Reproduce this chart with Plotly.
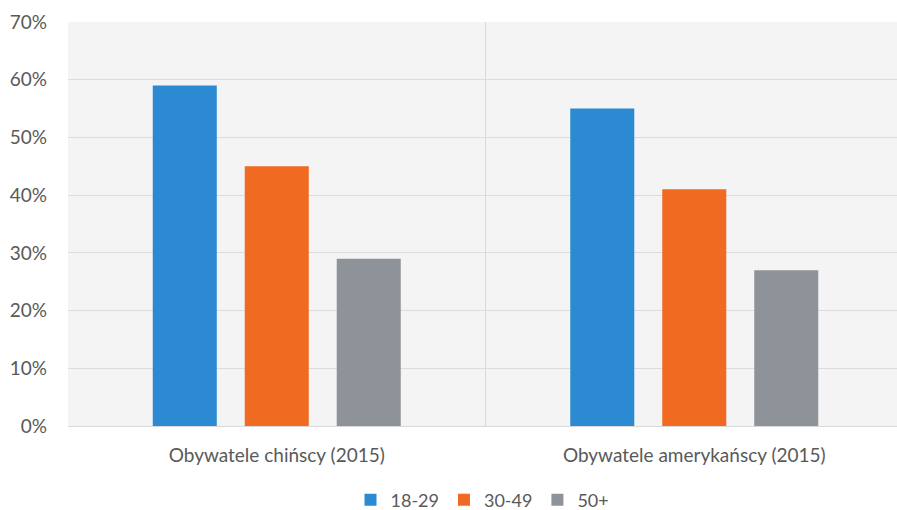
import plotly.graph_objects as go

categories = ["Obywatele chińscy (2015)", "Obywatele amerykańscy (2015)"]
series_names = ["18-29", "30-49", "50+"]
values_18_29 = [59, 55]
values_30_49 = [45, 41]
values_50_plus = [29, 27]
y_ticks = [0, 10, 20, 30, 40, 50, 60, 70]
y_tick_labels = [f"{v}%" for v in y_ticks]

colors = ["#2B8AD2", "#F06A22", "#8D9399"]
text_color = "#595959"
font_family = "Lato, Carlito, Calibri, 'Open Sans', sans-serif"

x_pos = list(range(len(categories)))

fig = go.Figure()
for name, vals, col in zip(series_names, [values_18_29, values_30_49, values_50_plus], colors):
    fig.add_trace(go.Bar(
        x=x_pos, y=vals, name=name,
        marker=dict(color=col, line=dict(width=0)),
    ))

fig.update_layout(
    width=897, height=510,
    margin=dict(l=68, r=0, t=22, b=84, autoexpand=False),
    paper_bgcolor="white",
    plot_bgcolor="#F4F4F4",
    barmode="group",
    bargap=0.339,
    bargroupgap=0.304,
    font=dict(family=font_family, size=19, color=text_color),
    legend=dict(
        orientation="h", x=0.5, xanchor="center", y=-0.183, yanchor="middle",
        font=dict(size=18, color=text_color), itemwidth=30, tracegroupgap=0,
    ),
    xaxis=dict(
        range=[-0.5, 1.4856],
        tickvals=x_pos, ticktext=categories,
        showgrid=False, zeroline=False, showline=False, ticks="",
        ticklabelstandoff=16, automargin=False,
        minor=dict(tickvals=[0.5], showgrid=True, gridcolor="#D9D9D9", gridwidth=1, ticks=""),
        fixedrange=True,
    ),
    yaxis=dict(
        range=[0, 70], tickvals=y_ticks, ticktext=y_tick_labels,
        showgrid=True, gridcolor="#DCDCDC", gridwidth=1,
        zeroline=True, zerolinecolor="#D9D9D9", zerolinewidth=1,
        showline=False, ticks="", ticklabelstandoff=20, automargin=False,
        fixedrange=True,
    ),
)

fig.write_html("out.html")
